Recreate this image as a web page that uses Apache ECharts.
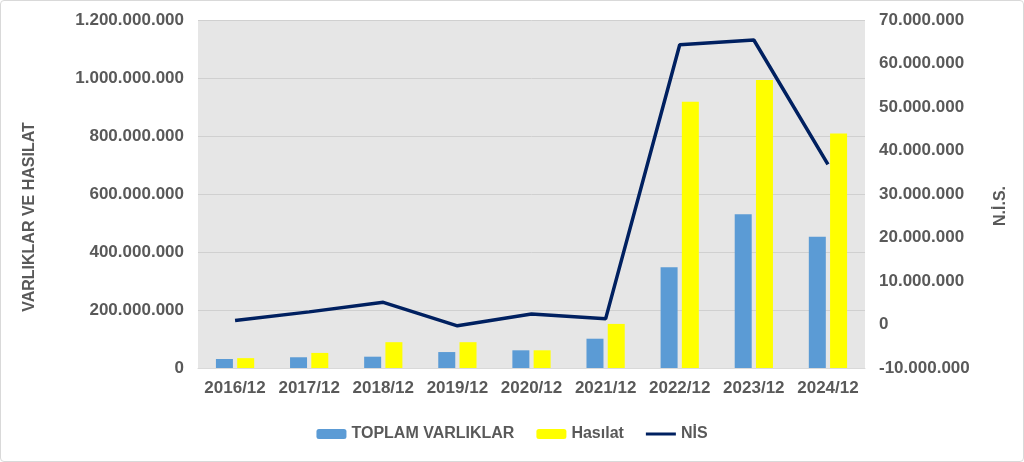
<!DOCTYPE html>
<html>
<head>
    <meta charset="utf-8">
    <title>Varliklar ve Hasilat</title>
    <script src="https://cdn.jsdelivr.net/npm/echarts@6/dist/echarts.min.js"></script>
    <style>
        html, body { margin: 0; padding: 0; background: #fff; }
        #chart { width: 1022px; height: 460px; border: 1px solid #d9d9d9; border-radius: 4px; }
    </style>
</head>
<body>
    <div id="chart"></div>
    <script type="text/javascript">
        // veriler
        var years = ['2016/12', '2017/12', '2018/12', '2019/12', '2020/12', '2021/12', '2022/12', '2023/12', '2024/12'];
        var toplamVarliklar = [31e6, 37e6, 39e6, 55e6, 61e6, 101e6, 347e6, 530e6, 453e6];
        var hasilat = [34e6, 52e6, 89e6, 89e6, 61e6, 152e6, 918e6, 993e6, 809e6];
        var nis = [0.9e6, 2.9e6, 5.1e6, -0.3e6, 2.4e6, 1.3e6, 64.3e6, 65.4e6, 36.8e6];

        function dotted(v) {
            var s = Math.round(Math.abs(v)).toString().replace(/\B(?=(\d{3})+(?!\d))/g, '.');
            return (v < 0 ? '-' : '') + s;
        }

        var txt = { color: '#595959', fontFamily: 'Liberation Sans', fontWeight: 'bold', fontSize: 16 };
        var lbl = Object.assign({}, txt, { fontSize: 17 });

        var myChart = echarts.init(document.getElementById('chart'));
        myChart.setOption({
            animation: false,
            grid: {
                left: 197, right: 158, top: 19, bottom: 93,
                show: true, backgroundColor: '#e6e6e6', borderWidth: 0
            },
            legend: {
                bottom: 14,
                itemWidth: 30, itemHeight: 10, itemGap: 22,
                textStyle: txt,
                data: [
                    { name: 'TOPLAM VARLIKLAR' },
                    { name: 'Hasılat' },
                    { name: 'NİS', icon: 'path://M0 0H30V3H0Z', itemStyle: { color: '#002060' } }
                ]
            },
            xAxis: {
                type: 'category',
                data: years,
                axisLine: { lineStyle: { color: '#d9d9d9' } },
                axisTick: { show: false },
                axisLabel: Object.assign({ margin: 12, interval: 0 }, lbl)
            },
            yAxis: [
                {
                    type: 'value', min: 0, max: 1200000000, interval: 200000000,
                    name: 'VARLIKLAR VE HASILAT', nameLocation: 'middle', nameGap: 160,
                    nameTextStyle: Object.assign({ padding: [0, 46, 0, 0] }, txt),
                    axisLabel: Object.assign({ formatter: dotted, margin: 14 }, lbl),
                    splitLine: { lineStyle: { color: '#d0d0d0' } },
                    axisLine: { show: false }, axisTick: { show: false }
                },
                {
                    type: 'value', min: -10000000, max: 70000000, interval: 10000000,
                    name: 'N.İ.S.', nameLocation: 'middle', nameGap: 128, nameRotate: 90,
                    nameTextStyle: Object.assign({ padding: [0, 24, 0, 0] }, txt),
                    axisLabel: Object.assign({ formatter: dotted, margin: 14 }, lbl),
                    splitLine: { show: false },
                    axisLine: { show: false }, axisTick: { show: false }
                }
            ],
            series: [
                {
                    name: 'TOPLAM VARLIKLAR', type: 'bar', data: toplamVarliklar,
                    barWidth: 17, barGap: '25%',
                    itemStyle: { color: '#5b9bd5' }
                },
                {
                    name: 'Hasılat', type: 'bar', data: hasilat,
                    barWidth: 17,
                    itemStyle: { color: '#ffff00' }
                },
                {
                    name: 'NİS', type: 'line', yAxisIndex: 1, data: nis,
                    symbol: 'none',
                    lineStyle: { color: '#002060', width: 3.5 },
                    itemStyle: { color: '#002060' }
                }
            ]
        });
    </script>
</body>
</html>
